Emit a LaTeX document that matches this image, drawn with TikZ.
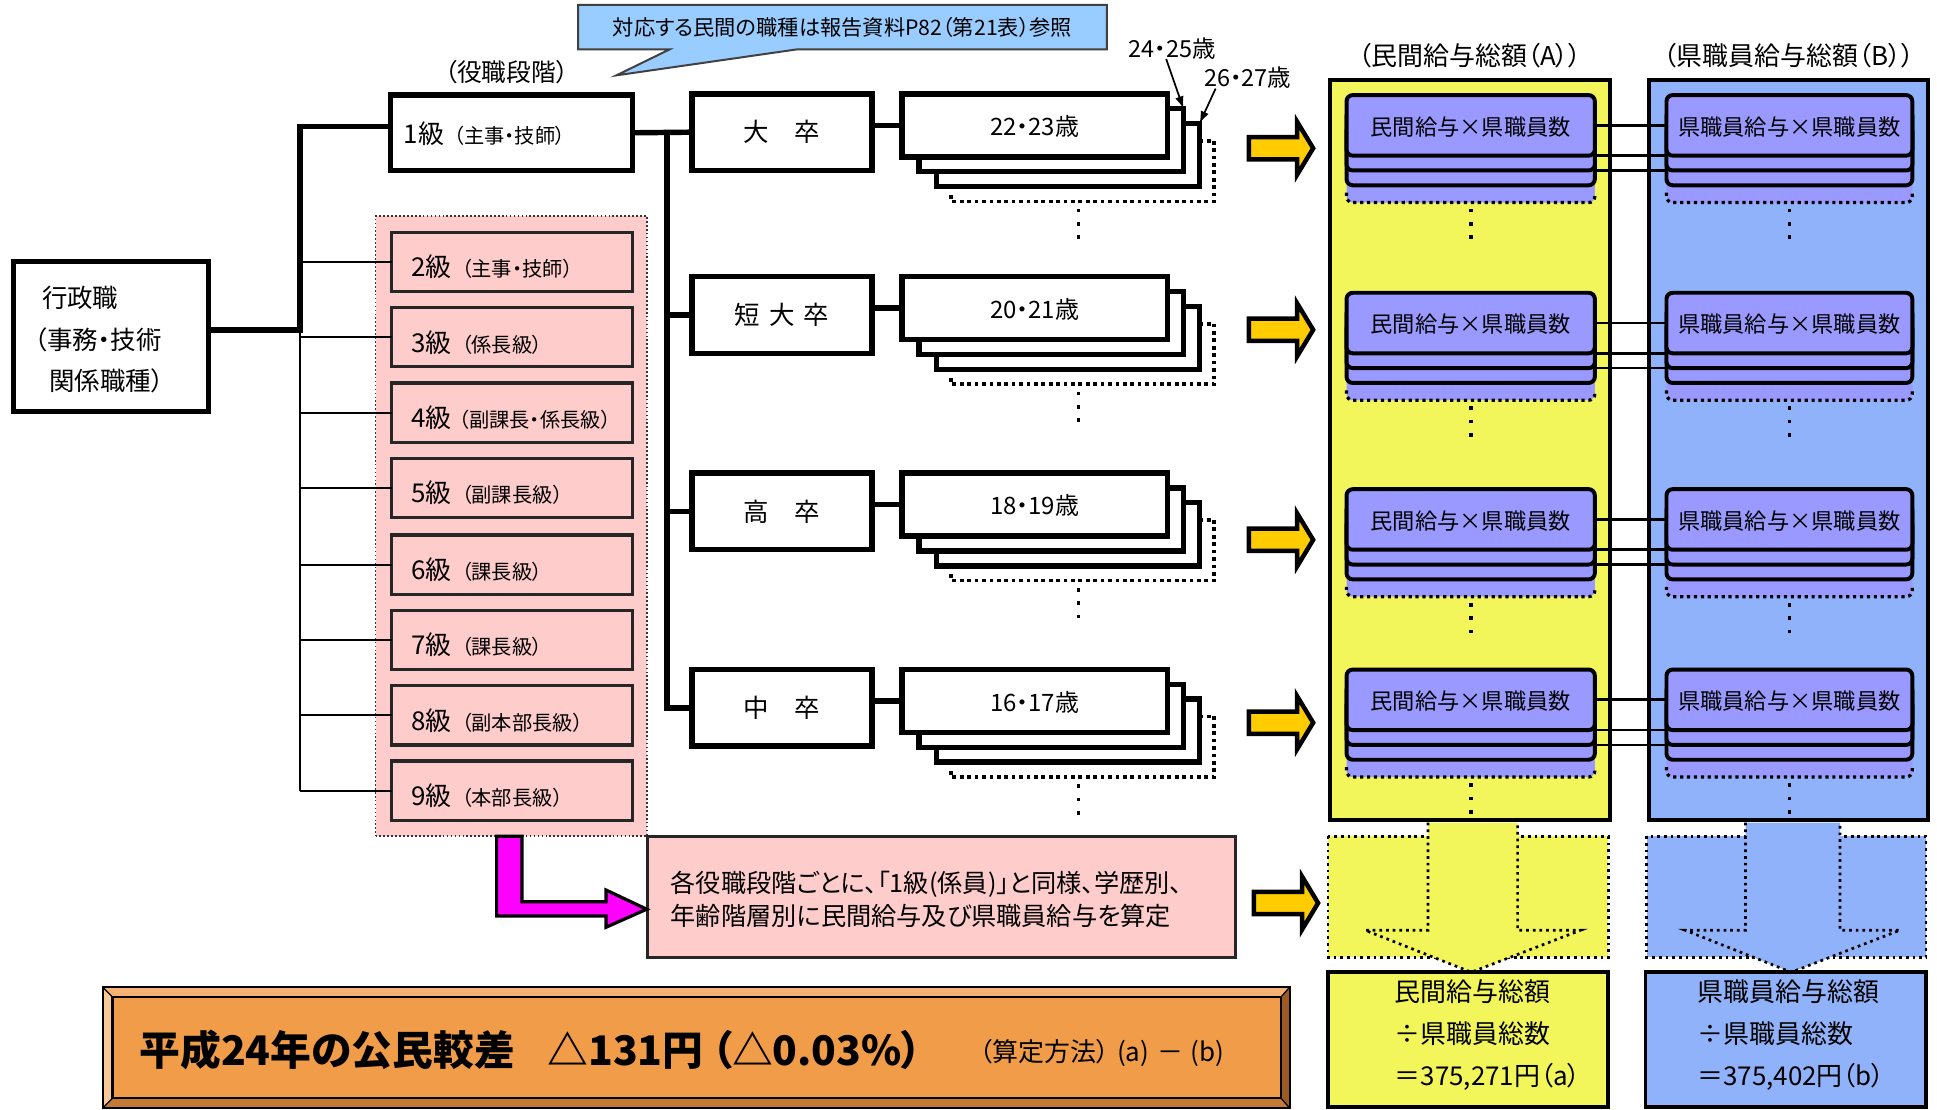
\documentclass[tikz,border=0pt]{standalone}
\usepackage{fontspec}
\setmainfont{Noto Sans CJK JP}[RawFeature=+palt]
\usetikzlibrary{fit,arrows.meta,calc}
\definecolor{callb}{RGB}{153,204,255}
\definecolor{pinkf}{RGB}{255,204,204}
\definecolor{colY}{RGB}{242,246,90}
\definecolor{colB}{RGB}{143,178,250}
\definecolor{purp}{RGB}{153,153,255}
\definecolor{arrY}{RGB}{255,204,0}
\definecolor{mag}{RGB}{255,0,255}
\definecolor{orM}{RGB}{240,156,72}
\definecolor{orT}{RGB}{245,178,115}
\definecolor{orL}{RGB}{248,200,150}
\definecolor{orB}{RGB}{194,122,53}
\definecolor{orR}{RGB}{156,90,36}
\newcommand\myfs[1]{\fontsize{#1}{#1}\selectfont}
\newcommand\myfsb[2]{\fontsize{#1}{#2}\selectfont}
\begin{document}
\begin{tikzpicture}[x=0.5pt,y=-0.5pt,
  every node/.style={inner sep=0pt, outer sep=0pt},
  fbox/.style={draw=black, fill=white, line width=2.2pt},
  pbox/.style={draw=black!85, fill=pinkf, line width=1.3pt},
  pstack/.style={draw=black, fill=purp, line width=1.6pt, rounded corners=2.5pt},
  yarrow/.style={draw=black, fill=arrY, line width=1.8pt, line join=miter},
  agedots/.style={line width=1.5pt, dash pattern=on 1.5pt off 1.5pt},
  vdots/.style={line width=1.5pt, dash pattern=on 1.5pt off 3.9pt},
  pdots/.style={line width=1.3pt, dash pattern=on 1.3pt off 1.5pt},
  areadots/.style={line width=1.1pt, dash pattern=on 1.1pt off 1.6pt},
  thk/.style={line width=2.2pt},
  thn/.style={line width=0.8pt},
  link/.style={line width=1.1pt}
]
\useasboundingbox (0,0) rectangle (1568,898);
\fill[white] (0,0) rectangle (1568,898);

% callout
\draw[fill=callb, draw=black!75, line width=0.8pt, line join=miter] (468,4) -- (896,4) -- (896,40) -- (645,40) -- (499,61) -- (542,40) -- (468,40) -- cycle;
\node[font=\myfs{8.6pt}] (calltext) at (682,22) {対応する民間の職種は報告資料P82（第21表）参照};

\node[font=\myfs{10pt}] (yaku) at (410,58) {（役職段階）};

% 行政職
\node[fbox, line width=2pt, fit={(11,212) (169,333)}] (gyo) {};
\node[font=\myfs{10.3pt}, anchor=west] (g1) at (34,241) {行政職};
\node[font=\myfs{10.3pt}, anchor=west] (g2) at (28,275) {（事務・技術};
\node[font=\myfs{10.3pt}, anchor=west] (g3) at (40,308) {関係職種）};

% 1級
\node[fbox, fit={(316,77) (512,138)}] (ky1) {};
\node[anchor=west] (ky1t) at (327,108) {\myfs{10.5pt}1級\hspace{4pt}\myfs{8.2pt}（主事・技師）};

% pink group
\node[fit={(304,175) (524,677)}, fill=pinkf, draw=black!80, line width=0.7pt, dash pattern=on 0.7pt off 0.9pt] (grp) {};

\foreach \k/\top/\txt/\gap in {2/188/主事・技師/4pt, 3/249/係長級/4pt, 4/310/副課長・係長級/3pt, 5/371/副課長級/4pt, 6/433/課長級/4pt, 7/494/課長級/4pt, 8/555/副本部長級/4pt, 9/616/本部長級/4pt}{
  \node[pbox, fit={(317,\top) (512,\top+48)}] (ky\k) {};
  \node[anchor=west] (ky\k t) at (333,\top+28) {\myfs{10.5pt}\k 級\hspace{\gap}\myfs{8.2pt}（\txt）};
}

% tree
\coordinate (j1) at (243,267);
\draw[thk, line join=miter] (j1 -| gyo.east) -- (j1) |- ([yshift=2.5pt]ky1.west);
\draw[thn] (j1) -- (j1 |- ky9.west);
\foreach \k in {2,...,9}{
  \draw[thn] (j1 |- ky\k.west) -- (ky\k.west);
}

% education boxes
\foreach \n/\T/\txt in {1/76/大\hspace{1em}卒, 2/224/短\hspace{0.35em}大\hspace{0.35em}卒, 3/383/高\hspace{1em}卒, 4/542/中\hspace{1em}卒}{
  \node[fbox, fit={(560,\T) (706,\T+62)}] (ed\n) {};
  \node[font=\myfs{10.3pt}] (ed\n t) at (ed\n.center) {\txt};
}
\draw[thk] (ky1.east) -- (ed1.west);
\coordinate (j2) at (540,107.5);
\draw[thk, line join=miter] (j2) |- (ed4.west);
\draw[thk] (j2 |- ed2.west) -- (ed2.west);
\draw[thk] (j2 |- ed3.west) -- (ed3.west);

% age stacks
\foreach \n/\T/\txt in {1/76/22・23歳, 2/224/20・21歳, 3/383/18・19歳, 4/542/16・17歳}{
  \draw[agedots] (971,\T+38) -- (983,\T+38) -- (983,\T+87) -- (770,\T+87) -- (770,\T+82);
  \node[fbox, fit={(758,\T+24) (971,\T+75)}] (ag\n-c) {};
  \node[fbox, fit={(744,\T+12) (958,\T+63)}] (ag\n-b) {};
  \node[fbox, fit={(730,\T) (945,\T+51)}] (ag\n-a) {};
  \node[font=\myfs{9.7pt}] (ag\n-t) at ([yshift=-0.5pt]ag\n-a.center) {\txt};
  \draw[thk] (ed\n.east |- ag\n-a.west) -- (ag\n-a.west);
  \draw[vdots] (873,\T+93) -- (873,\T+119);
}
\node[font=\myfs{9.5pt}] (l2425) at (949,39) {24・25歳};
\node[font=\myfs{9.5pt}] (l2627) at (1010,63) {26・27歳};
\draw[line width=0.7pt, -{Latex[length=5pt,width=3.5pt]}] ([xshift=-2.5pt]l2425.south) -- (ag1-b.north east);
\draw[line width=0.7pt, -{Latex[length=5pt,width=3.5pt]}] ([xshift=-13pt]l2627.south) -- (ag1-c.north east);

% yellow block arrows
\foreach \c/\s in {120/0, 267/0, 437/0, 585/0, 731/4}{
  \draw[yarrow] (1011+\s,\c-9) -- (1050+\s,\c-9) -- (1050+\s,\c-21.5) -- (1063+\s,\c) -- (1050+\s,\c+21.5) -- (1050+\s,\c+9) -- (1011+\s,\c+9) -- cycle;
}

% columns
\node[fit={(1077,65) (1303,664)}, fill=colY, draw=black, line width=1.6pt] (colA) {};
\node[fit={(1335,65) (1561,664)}, fill=colB, draw=black, line width=1.6pt] (colB) {};
\node[font=\myfs{10.5pt}] (hA) at (1190,45) {（民間給与総額（A））};
\node[font=\myfs{10.5pt}] (hB) at (1448,45) {（県職員給与総額（B））};

\foreach \n/\P in {1/77, 2/237, 3/396, 4/542}{
  \foreach \s/\xa/\xb/\txt in {ya/1090/1291/民間給与×県職員数, yb/1349/1548/県職員給与×県職員数}{
    \fill[purp, rounded corners=2.5pt] (\xa,\P+62) rectangle (\xb,\P+87);
    \draw[pdots, rounded corners=2.5pt] (\xa,\P+79) -- (\xa,\P+87) -- (\xb,\P+87) -- (\xb,\P+79);
    \node[pstack, fit={(\xa,\P+24) (\xb,\P+73)}] (\s\n-c) {};
    \node[pstack, fit={(\xa,\P+12) (\xb,\P+61)}] (\s\n-b) {};
    \node[pstack, fit={(\xa,\P) (\xb,\P+49)}] (\s\n-a) {};
    \node[font=\myfs{9pt}] (\s\n-t) at ([yshift=-0.5pt]\s\n-a.center) {\txt};
    \draw[vdots] (\xa/2+\xb/2,\P+92) -- (\xa/2+\xb/2,\P+118);
  }
  \draw[link] (ya\n-a.east) -- (yb\n-a.west);
  \draw[link] (ya\n-a.south east) -- (yb\n-a.south west);
  \draw[link] (ya\n-b.south east) -- (yb\n-b.south west);
}

% dotted areas with big arrows
\draw[fill=colY, areadots] (1075,677) rectangle (1302,775);
\fill[colY] (1156,666) -- (1228.5,666) -- (1228.5,753) -- (1279.5,753) -- (1191,787) -- (1105,753) -- (1156,753) -- cycle;
\draw[areadots] (1156,666) -- (1156,753) -- (1105,753) -- (1191,787) -- (1279.5,753) -- (1228.5,753) -- (1228.5,666);
\draw[fill=colB, areadots] (1333,677) rectangle (1559,775);
\fill[colB] (1413,666) -- (1489.5,666) -- (1489.5,753) -- (1538,753) -- (1450,787) -- (1364,753) -- (1413,753) -- cycle;
\draw[areadots] (1413,666) -- (1413,753) -- (1364,753) -- (1450,787) -- (1538,753) -- (1489.5,753) -- (1489.5,666);

% result boxes
\node[fit={(1075,787) (1302,896)}, fill=colY, draw=black, line width=1.6pt] (resA) {};
\node[font=\myfsb{10.5pt}{17pt}, align=left, anchor=west] (resAt) at (1129,838) {民間給与総額\\÷県職員総数\\＝375,271円（a）};
\node[fit={(1332,787) (1559,896)}, fill=colB, draw=black, line width=1.6pt] (resB) {};
\node[font=\myfsb{10.5pt}{17pt}, align=left, anchor=west] (resBt) at (1374,838) {県職員給与総額\\÷県職員総数\\＝375,402円（b）};

% note box
\node[pbox, fit={(524,677) (1000,775)}] (note) {};
\node[font=\myfsb{10.2pt}{13.5pt}, align=left, anchor=west] (notet) at (543,728) {各役職段階ごとに、「1級(係員)」と同様、学歴別、\\年齢階層別に民間給与及び県職員給与を算定};

% magenta arrow
\draw[line width=1.3pt, fill=mag, line join=miter] (402,677) -- (422.5,677) -- (422.5,730) -- (490.6,730) -- (490.6,720.5) -- (523.5,736) -- (490.6,750.6) -- (490.6,741.5) -- (402,741.5) -- cycle;

% banner
\fill[orM] (83,799) rectangle (1044,897);
\fill[orT] (83,799) -- (1044,799) -- (1037,807) -- (91,807) -- cycle;
\fill[orL] (83,799) -- (91,807) -- (91,889) -- (83,897) -- cycle;
\fill[orB] (83,897) -- (91,889) -- (1037,889) -- (1044,897) -- cycle;
\fill[orR] (1044,799) -- (1037,807) -- (1037,889) -- (1044,897) -- cycle;
\draw[line width=0.8pt] (83,799) rectangle (1044,897);
\draw[line width=0.5pt] (83,799) -- (91,807) (1044,799) -- (1037,807) (83,897) -- (91,889) (1044,897) -- (1037,889);
\node[fit={(91,807) (1037,889)}, draw=black, line width=0.9pt] (banner) {};
\node[font=\bfseries\myfs{16.5pt}, anchor=west] (bant) at (113,850) {平成24年の公民較差\hspace{0.8em}△131円\hspace{0.2em}（△0.03\%）};
\node[font=\myfs{10.5pt}, anchor=west] (banm) at (793,852) {（算定方法）\hspace{0.3em}(a)\hspace{0.3em}－\hspace{0.3em}(b)};
\end{tikzpicture}
\end{document}
